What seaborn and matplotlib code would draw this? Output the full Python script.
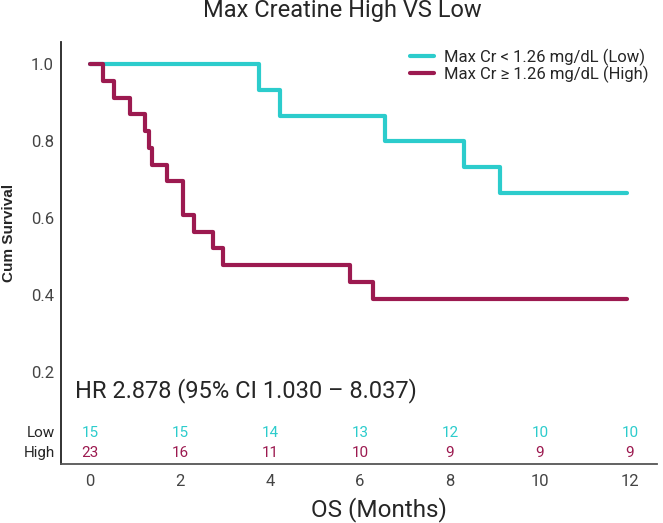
import numpy as np
import pandas as pd
import matplotlib
matplotlib.use('Agg')
import matplotlib.pyplot as plt
import seaborn as sns

sns.set_style('white')
plt.rcParams['font.family'] = ['Roboto', 'DejaVu Sans']

# Kaplan-Meier steps (time in months, cumulative survival)
low_time = [0, 3.76, 4.22, 6.56, 8.31, 9.11, 11.93]
low_surv = [1.0, 0.933, 0.867, 0.800, 0.733, 0.667, 0.667]
high_time = [0, 0.30, 0.53, 0.90, 1.22, 1.32, 1.37, 1.71, 2.07, 2.32, 2.74, 2.95, 5.78, 6.28, 11.93]
high_surv = [1.0, 0.957, 0.913, 0.870, 0.826, 0.783, 0.739, 0.696, 0.609, 0.565, 0.522, 0.478, 0.435, 0.391, 0.391]

# numbers at risk
risk_times = [0, 2, 4, 6, 8, 10, 12]
low_risk = [15, 15, 14, 13, 12, 10, 10]
high_risk = [23, 16, 11, 10, 9, 9, 9]

low_label = 'Max Cr < 1.26 mg/dL (Low)'
high_label = 'Max Cr \u2265 1.26 mg/dL (High)'
cyan = '#2ccccc'
maroon = '#9c1a50'

df = pd.concat([
    pd.DataFrame({'time': low_time, 'surv': low_surv, 'group': low_label}),
    pd.DataFrame({'time': high_time, 'surv': high_surv, 'group': high_label}),
])

fig = plt.figure(figsize=(6.63, 5.23), dpi=100)
ax = fig.add_axes([0.0916, 0.1128, 0.8994, 0.8069])

sns.lineplot(data=df, x='time', y='surv', hue='group', palette=[cyan, maroon],
             drawstyle='steps-post', linewidth=3, ax=ax, estimator=None, sort=False)

ax.set_xlim(-0.65, 12.6)
ax.set_ylim(-0.038, 1.058)
ax.set_xticks(risk_times)
ax.set_yticks([0.2, 0.4, 0.6, 0.8, 1.0])
ax.set_yticklabels(['0.2', '0.4', '0.6', '0.8', '1.0'])
ax.tick_params(axis='both', length=0, labelsize=12, labelcolor='#444444')
ax.tick_params(axis='x', pad=7)
ax.tick_params(axis='y', pad=5)
for s in ['top', 'right']:
    ax.spines[s].set_visible(False)
ax.spines['left'].set_color('#222222')
ax.spines['bottom'].set_color('#555555')
for s in ['left', 'bottom']:
    ax.spines[s].set_linewidth(1.3)

ax.set_xlabel('OS (Months)', fontsize=17.5, va='center')
ax.xaxis.set_label_coords(0.534, -0.109)
ax.set_ylabel('Cum Survival', fontsize=11, fontweight='bold', family='Liberation Sans',
              ha='center', va='center')
ax.yaxis.set_label_coords(-0.087, 0.547)
fig.text(0.517, 0.979, 'Max Creatine High VS Low', fontsize=17, ha='center', va='center')

leg = ax.legend(loc='upper right', frameon=False, fontsize=12, handlelength=1.45,
                handletextpad=0.55, borderaxespad=0, borderpad=0, labelspacing=0.0,
                bbox_to_anchor=(0.985, 0.985))
for line in leg.get_lines():
    line.set_linewidth(3)

ax.text(-0.333, 0.153, 'HR 2.878 (95% CI 1.030 \u2013 8.037)', fontsize=17, va='center', ha='left')

for t, n in zip(risk_times, low_risk):
    ax.text(t, 0.0436, str(n), color=cyan, fontsize=11, ha='center', va='center')
for t, n in zip(risk_times, high_risk):
    ax.text(t, -0.0083, str(n), color=maroon, fontsize=11, ha='center', va='center')
trans = ax.get_yaxis_transform()
ax.text(-0.01, 0.0436, 'Low', transform=trans, fontsize=11, ha='right', va='center')
ax.text(-0.01, -0.0083, 'High', transform=trans, fontsize=11, ha='right', va='center')

fig.savefig('out.png', dpi=100)
